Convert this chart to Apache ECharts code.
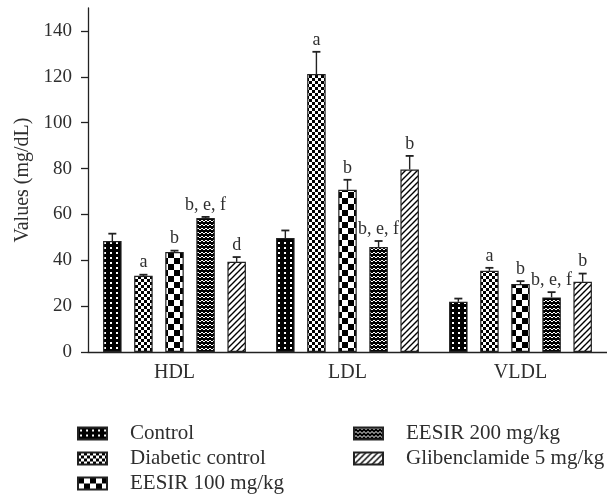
<!DOCTYPE html>
<html>
<head>
<meta charset="utf-8">
<script src="https://cdn.jsdelivr.net/npm/echarts@6/dist/echarts.min.js"></script>
<style>
  html, body { margin: 0; padding: 0; background: #fff; }
  #chart { width: 607px; height: 496px; }
</style>
</head>
<body>
<div id="chart"></div>
<script>
// Lipid profile, mean + SEM per group
const categories = ['HDL', 'LDL', 'VLDL'];
const groupNames = ['Control', 'Diabetic control', 'EESIR 100 mg/kg', 'EESIR 200 mg/kg', 'Glibenclamide 5 mg/kg'];

const controlVals  = [48.4, 49.7, 21.9];
const diabeticVals = [33.2, 121.2, 35.4];
const eesir100Vals = [43.6, 70.7, 29.6];
const eesir200Vals = [58.4, 45.8, 23.8];
const glibVals     = [39.3, 79.6, 30.6];

const controlErr  = [3.2, 3.3, 1.4];
const diabeticErr = [0.5, 9.7, 1.3];
const eesir100Err = [0.6, 4.4, 1.3];
const eesir200Err = [0.5, 2.6, 2.3];
const glibErr     = [2.1, 5.9, 3.6];

const controlSig  = ['', '', ''];
const diabeticSig = ['a', 'a', 'a'];
const eesir100Sig = ['b', 'b', 'b'];
const eesir200Sig = ['b, e, f', 'b, e, f', 'b, e, f'];
const glibSig     = ['d', 'b', 'b'];

const yTicks = [0, 20, 40, 60, 80, 100, 120, 140];

const allVals = [controlVals, diabeticVals, eesir100Vals, eesir200Vals, glibVals];
const allErr  = [controlErr, diabeticErr, eesir100Err, eesir200Err, glibErr];
const allSig  = [controlSig, diabeticSig, eesir100Sig, eesir200Sig, glibSig];

// ---- fill patterns ----
function tile(w, h, draw) {
  const c = document.createElement('canvas');
  c.width = w; c.height = h;
  const g = c.getContext('2d');
  draw(g, w, h);
  return { image: c, repeat: 'repeat' };
}
const patterns = [
  // black with white dots
  tile(6, 5, (g, w, h) => {
    g.fillStyle = '#000'; g.fillRect(0, 0, w, h);
    g.fillStyle = '#fff'; g.fillRect(2, 2, 2, 2);
  }),
  // fine checker
  tile(6, 6, (g, w, h) => {
    g.fillStyle = '#fff'; g.fillRect(0, 0, w, h);
    g.fillStyle = '#000'; g.fillRect(0, 0, 3, 3); g.fillRect(3, 3, 3, 3);
  }),
  // coarse checker
  tile(12, 12, (g, w, h) => {
    g.fillStyle = '#fff'; g.fillRect(0, 0, w, h);
    g.fillStyle = '#000'; g.fillRect(0, 0, 6, 6); g.fillRect(6, 6, 6, 6);
  }),
  // black with white wavy lines
  tile(8, 4, (g, w, h) => {
    g.fillStyle = '#000'; g.fillRect(0, 0, w, h);
    g.fillStyle = '#fff';
    g.fillRect(1, 0, 2, 1); g.fillRect(5, 0, 2, 1);
    g.fillRect(0, 1, 1, 1); g.fillRect(3, 1, 2, 1); g.fillRect(7, 1, 1, 1);
  }),
  // diagonal hatch
  tile(6, 6, (g, w, h) => {
    g.fillStyle = '#fff'; g.fillRect(0, 0, w, h);
    g.strokeStyle = '#000'; g.lineWidth = 1.4;
    g.beginPath();
    g.moveTo(-1, 7); g.lineTo(7, -1);
    g.moveTo(-1, 1); g.lineTo(1, -1);
    g.moveTo(5, 7); g.lineTo(7, 5);
    g.stroke();
  })
];

const FONT = '"Liberation Serif", "DejaVu Serif", serif';
const TEXT = '#2e2e2e';
const BAR_W = 18.5;
const BAR_GAP = 0.68;
const STEP = BAR_W * (1 + BAR_GAP);

const series = [];
groupNames.forEach((name, i) => {
  series.push({
    name: name,
    type: 'bar',
    data: allVals[i],
    barWidth: BAR_W,
    barGap: (BAR_GAP * 100) + '%',
    itemStyle: { color: patterns[i], borderColor: '#222', borderWidth: 1.2 },
    emphasis: { disabled: true },
    z: 2
  });
});
// error bars + significance letters
groupNames.forEach((name, i) => {
  series.push({
    type: 'custom',
    silent: true,
    z: 3,
    data: categories.map((c, k) => [k, allVals[i][k], allErr[i][k]]),
    encode: { x: 0, y: 1 },
    renderItem: function (params, api) {
      const k = api.value(0);
      const v = api.value(1);
      const e = api.value(2);
      const sig = allSig[i][k];
      const base = api.coord([k, v]);
      const topPt = api.coord([k, v + e]);
      const x = base[0] + (i - 2) * STEP;
      const cap = 4;
      const children = [
        { type: 'line', shape: { x1: x, y1: base[1], x2: x, y2: topPt[1] }, style: { stroke: '#222', lineWidth: 1.4 } },
        { type: 'line', shape: { x1: x - cap, y1: topPt[1], x2: x + cap, y2: topPt[1] }, style: { stroke: '#222', lineWidth: 1.8 } }
      ];
      if (sig) {
        children.push({
          type: 'text',
          style: {
            text: sig, x: x, y: topPt[1] - 3,
            textAlign: 'center', textVerticalAlign: 'bottom', verticalAlign: 'bottom',
            font: '18px ' + FONT, fill: TEXT
          }
        });
      }
      return { type: 'group', children: children };
    }
  });
});

// one legend entry per block so the two columns sit exactly
const legendSpots = [[77, 423], [77, 448], [77, 473], [353, 423], [353, 448]];
const legends = groupNames.map((name, i) => ({
  data: [name],
  orient: 'horizontal',
  left: legendSpots[i][0], top: legendSpots[i][1],
  itemWidth: 29, itemHeight: 12,
  icon: 'rect', selectedMode: false,
  padding: 0,
  textStyle: { fontFamily: FONT, fontSize: 21, lineHeight: 18, color: TEXT, padding: [0, 0, 0, 18] }
}));

const chart = echarts.init(document.getElementById('chart'), null, { renderer: 'canvas' });
chart.setOption({
  animation: false,
  backgroundColor: '#fff',
  grid: { left: 88, right: 0, top: 8, height: 344 },
  legend: legends,
  xAxis: {
    type: 'category',
    data: categories,
    axisLine: { lineStyle: { color: '#222', width: 1.3 } },
    axisTick: { show: false },
    axisLabel: { fontFamily: FONT, fontSize: 20, color: TEXT, margin: 11 }
  },
  yAxis: {
    type: 'value',
    min: 0, max: 150, interval: 10,
    name: 'Values (mg/dL)',
    nameLocation: 'middle',
    nameGap: 54,
    nameTextStyle: { fontFamily: FONT, fontSize: 20, color: TEXT },
    axisLine: { show: true, lineStyle: { color: '#222', width: 1.3 } },
    axisTick: { show: true, length: 7, customValues: yTicks, lineStyle: { color: '#222', width: 1.3 } },
    axisLabel: { fontFamily: FONT, fontSize: 19, color: TEXT, margin: 16, customValues: yTicks },
    splitLine: { show: false }
  },
  series: series
});
</script>
</body>
</html>
